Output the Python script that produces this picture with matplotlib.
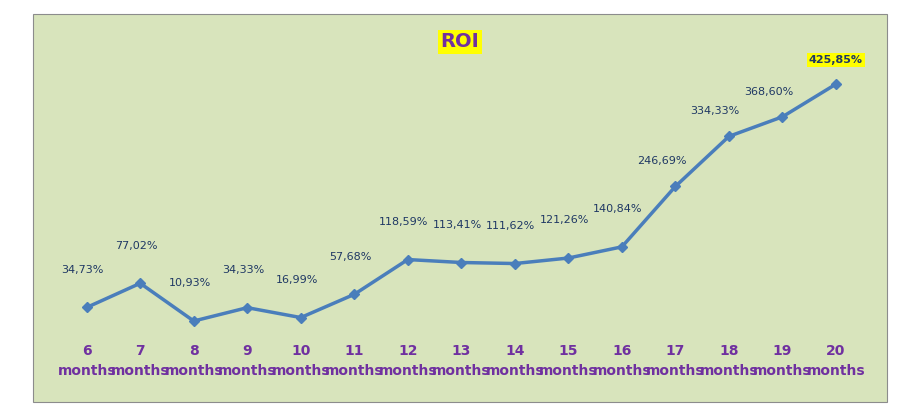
import matplotlib.pyplot as plt
from matplotlib.patches import Rectangle

months = ["6", "7", "8", "9", "10", "11", "12", "13", "14", "15", "16", "17", "18", "19", "20"]
roi = [34.73, 77.02, 10.93, 34.33, 16.99, 57.68, 118.59, 113.41, 111.62, 121.26,
       140.84, 246.69, 334.33, 368.60, 425.85]
labels = ["34,73%", "77,02%", "10,93%", "34,33%", "16,99%", "57,68%", "118,59%", "113,41%",
          "111,62%", "121,26%", "140,84%", "246,69%", "334,33%", "368,60%", "425,85%"]

fig = plt.figure(figsize=(9.03, 4.19), dpi=100)
fig.patches.append(Rectangle((0.0365, 0.0406), 0.946, 0.926, transform=fig.transFigure,
                             facecolor="#d8e4bc", edgecolor="#8c8c8c", lw=0.8, zorder=-10))

ax = fig.add_axes([0.0664, 0.2124, 0.889, 0.692])
ax.set_zorder(5)
ax.patch.set_alpha(0)
x = list(range(len(months)))
ax.plot(x, roi, color="#4a7ebb", lw=2.5, marker="D", ms=5)
ax.set_xlim(-0.5, 14.5)
ax.set_ylim(-4.8, 503)
for s in ax.spines.values():
    s.set_visible(False)
ax.set_yticks([])
ax.set_xticks(x)
ax.set_xticklabels([m + "\nmonths" for m in months], color="#7030a0", fontweight="bold",
                   fontsize=10, linespacing=1.6)
ax.tick_params(axis="x", length=0, pad=10)

for i, (v, t) in enumerate(zip(roi, labels)):
    if i == len(roi) - 1:
        ax.annotate(t, (i, v), xytext=(0, 15), textcoords="offset points", ha="center",
                    fontsize=8, fontweight="bold", color="#1f3864",
                    bbox=dict(facecolor="yellow", edgecolor="none", pad=1.5))
    else:
        off = (-10, 16) if i >= 11 else (-3, 25)
        ax.annotate(t, (i, v), xytext=off, textcoords="offset points", ha="center",
                    fontsize=8, color="#1f3864")

fig.text(0.509, 0.9, "ROI", ha="center", va="center", fontsize=14, fontweight="bold",
         color="#7030a0", bbox=dict(facecolor="yellow", edgecolor="none", pad=2))

fig.savefig("out.png", dpi=100)
